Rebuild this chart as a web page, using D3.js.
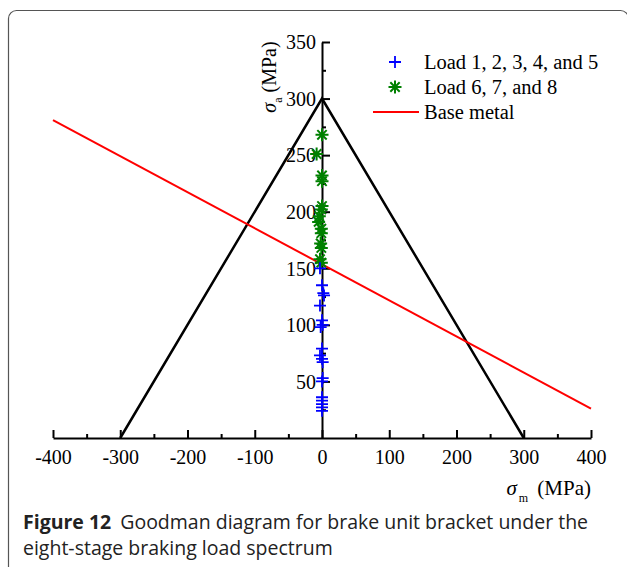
<!DOCTYPE html>
<html>
<head>
<meta charset="utf-8">
<script src="https://cdn.jsdelivr.net/npm/d3@7"></script>
<style>
  html, body { margin: 0; padding: 0; background: #fff; }
  svg { display: block; }
</style>
</head>
<body>
<svg id="chart" width="627" height="567"></svg>
<script>
// Goodman diagram: stress amplitude vs mean stress (MPa)
const xTicks = [-400, -300, -200, -100, 0, 100, 200, 300, 400];
const yTicks = [50, 100, 150, 200, 250, 300, 350];

// Goodman envelope (symmetric triangle)
const envelope = [[-300, 0], [0, 300], [300, 0]];
// Base metal fatigue limit line
const baseMetal = [[-400, 281], [400, 26]];

// Load stages 1-5 (mean stress, amplitude)
const loadsA = [[-3,150],[0,135],[2,128],[3,126],[-3,117],[0,104],[1,100],[-2,98],
  [0,79],[-3,73],[0,70],[1,67],[1,53],[0,50],[0,36],[0,33],[0,30],[0,27],[0,24]];
// Load stages 6-8
const loadsB = [[0,268],[-8,251],[0,232],[0,227],[0,205],[-1,202],[-4,196],[-5,191],
  [-1,185],[-1,181],[-2,172],[-1,168],[-3,158],[-1,155]];

const legendItems = ["Load 1, 2, 3, 4, and 5", "Load 6, 7, and 8", "Base metal"];
const captionBold = "Figure 12";
const captionRest = "Goodman diagram for brake unit bracket under the";
const captionLine2 = "eight-stage braking load spectrum";

const svg = d3.select("#chart");
const serif = "'Liberation Serif', 'Times New Roman', serif";

// outer panel frame
svg.append("rect")
  .attr("x", 8.5).attr("y", 10.5).attr("width", 620).attr("height", 620)
  .attr("rx", 8).attr("fill", "none").attr("stroke", "#555").attr("stroke-width", 1.2);

const x = d3.scaleLinear().domain([-400, 400]).range([53, 591]);
const y = d3.scaleLinear().domain([0, 350]).range([438, 42]);

const g = svg.append("g");

// x axis: ticks pointing up, labels below
g.append("g").attr("transform", `translate(0,${y(0)})`)
  .call(d3.axisBottom(x).tickValues(xTicks).tickSizeInner(-8).tickSizeOuter(0).tickPadding(12)
    .tickFormat(d => String(d)));
g.append("g").attr("transform", `translate(0,${y(0)})`)
  .call(d3.axisBottom(x).tickValues(d3.range(-350, 400, 100)).tickSizeInner(-4).tickSizeOuter(0).tickFormat(""))
  .select(".domain").remove();

// y axis at mean stress 0: ticks pointing right, labels left
const yAxis = g.append("g").attr("transform", `translate(${x(0)},0)`)
  .call(d3.axisLeft(y).tickValues(yTicks).tickSizeInner(-8).tickSizeOuter(0).tickPadding(6)
    .tickFormat(d => String(d)));
g.append("g").attr("transform", `translate(${x(0)},0)`)
  .call(d3.axisLeft(y).tickValues(d3.range(25, 350, 50)).tickSizeInner(-4).tickSizeOuter(0).tickFormat(""))
  .select(".domain").remove();

g.selectAll(".domain, .tick line").attr("stroke", "#000").attr("stroke-width", 2);
g.selectAll(".tick text").attr("font-family", serif).attr("font-size", 20).attr("fill", "#000");
yAxis.selectAll(".tick text").attr("dy", "0.34em");

const line = d3.line().x(d => x(d[0])).y(d => y(d[1]));

// Goodman envelope
g.append("path").datum(envelope).attr("d", line)
  .attr("fill", "none").attr("stroke", "#000").attr("stroke-width", 2.5);

// base metal line
g.append("path").datum(baseMetal).attr("d", line)
  .attr("fill", "none").attr("stroke", "#ff0000").attr("stroke-width", 2);

// marker shapes
const plusPath = (cx, cy, r) => `M${cx - r},${cy}H${cx + r}M${cx},${cy - r}V${cy + r}`;
const starPath = (cx, cy, r) => {
  const d = r * 0.72;
  return `M${cx},${cy - r}V${cy + r}M${cx - r},${cy}H${cx + r}` +
    `M${cx - d},${cy - d}L${cx + d},${cy + d}M${cx - d},${cy + d}L${cx + d},${cy - d}`;
};

g.append("g").selectAll("path").data(loadsB).join("path")
  .attr("d", d => starPath(x(d[0]), y(d[1]), 6.5))
  .attr("stroke", "#008000").attr("stroke-width", 2).attr("fill", "none");

g.append("g").selectAll("path").data(loadsA).join("path")
  .attr("d", d => plusPath(x(d[0]), y(d[1]), 6))
  .attr("stroke", "#0000ff").attr("stroke-width", 1.8).attr("fill", "none");

// axis titles
const xt = svg.append("text").attr("x", 591).attr("y", 495)
  .attr("text-anchor", "end").attr("font-family", serif).attr("font-size", 21);
xt.append("tspan").attr("font-style", "italic").text("σ");
xt.append("tspan").attr("font-size", 12).attr("dx", 2).attr("dy", 7).text("m");
xt.append("tspan").attr("dx", 4).attr("dy", -7).text(" (MPa)");

const yt = svg.append("text").attr("transform", "translate(276,77) rotate(-90)")
  .attr("text-anchor", "middle").attr("font-family", serif).attr("font-size", 20);
yt.append("tspan").attr("font-style", "italic").text("σ");
yt.append("tspan").attr("font-size", 12).attr("dy", 6).text("a");
yt.append("tspan").attr("dy", -6).text(" (MPa)");

// legend
const lg = svg.append("g");
const ly = [62, 87, 112];
lg.append("path").attr("d", plusPath(395, ly[0], 6))
  .attr("stroke", "#0000ff").attr("stroke-width", 1.8);
lg.append("path").attr("d", starPath(395, ly[1], 6.5))
  .attr("stroke", "#008000").attr("stroke-width", 2);
lg.append("line").attr("x1", 373).attr("x2", 419).attr("y1", ly[2]).attr("y2", ly[2])
  .attr("stroke", "#ff0000").attr("stroke-width", 2);
lg.selectAll("text").data(legendItems).join("text")
  .attr("x", 424).attr("y", (d, i) => ly[i]).attr("dy", "0.34em")
  .attr("font-family", serif).attr("font-size", 20.5).attr("fill", "#000")
  .text(d => d);

// caption
const sans = "'Open Sans', 'Noto Sans', sans-serif";
const cap = svg.append("text").attr("x", 23).attr("y", 529)
  .attr("font-family", sans).attr("font-size", 19.5).attr("fill", "#222");
cap.append("tspan").attr("font-weight", "bold").text(captionBold);
cap.append("tspan").attr("dx", 9).text(captionRest);
svg.append("text").attr("x", 23).attr("y", 555)
  .attr("font-family", sans).attr("font-size", 19.5).attr("fill", "#222")
  .text(captionLine2);
</script>
</body>
</html>
